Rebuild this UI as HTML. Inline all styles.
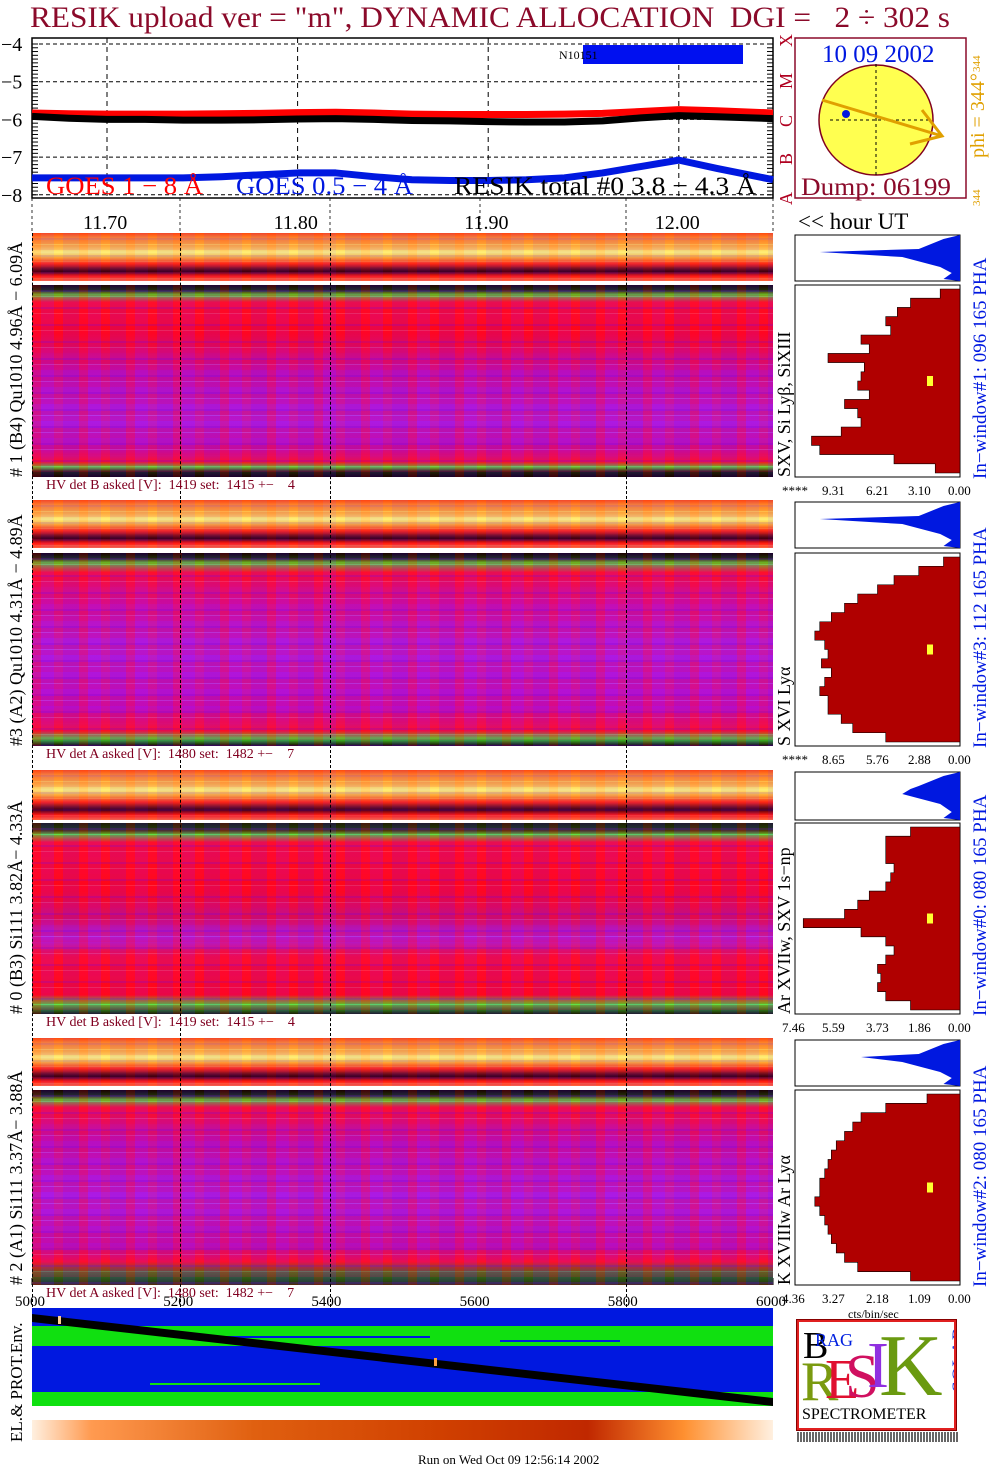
<!DOCTYPE html>
<html><head><meta charset="utf-8"><style>
body{margin:0;background:#fff;width:1004px;height:1476px;overflow:hidden;position:relative;font-family:"Liberation Serif",serif}
.abs{position:absolute}
.strip{position:absolute;left:32px;width:741px;background:linear-gradient(#ff5010 0%,#ff9a30 12%,#ffd040 28%,#ffff80 40%,#ffd040 50%,#ff3010 64%,#701020 74%,#300010 80%,#ff2010 90%,#ff8040 100%)}
.main{position:absolute;left:32px;width:741px}
.tex{position:absolute;inset:0;background:repeating-linear-gradient(90deg,rgba(255,0,40,.25) 0 9px,rgba(150,0,255,.18) 9px 22px,rgba(255,0,0,.1) 22px 31px,rgba(140,0,220,.2) 31px 47px),repeating-linear-gradient(rgba(255,255,255,0) 0 5px,rgba(120,0,200,.25) 5px 7px,rgba(255,0,0,.2) 7px 11px,rgba(255,255,255,.15) 11px 12px,rgba(255,0,60,.2) 12px 17px)}
.vl{position:absolute;border-left:1px dashed #000;width:0}
.hv{position:absolute;left:46px;font-size:14px;color:#800020;white-space:pre}
</style></head><body>
<div id="title" class="abs" style="left:30px;top:1px;font-size:30px;color:#8b0a2a;white-space:pre;transform-origin:left top">RESIK upload ver = "m", DYNAMIC ALLOCATION  DGI =   2 ÷ 302 s</div>

<svg id="top" class="abs" style="left:0;top:0" width="1004" height="1476"></svg>

<div id="panels"></div>

<div class="abs" style="left:418px;top:1452px;font-size:13px">Run on Wed Oct 09 12:56:14 2002</div>

<div class="abs" style="left:797px;top:1320px;width:155px;height:106px;border:2px solid #e02020;outline:1px solid #800;background:#fff;overflow:hidden">
 <div class="abs" style="left:4px;top:2px;font-size:38px;color:#000">B</div>
 <div class="abs" style="left:16px;top:8px;font-size:18px;color:#0020e0">RAG</div>
 <div class="abs" style="left:2px;top:28px;font-size:56px;color:#7a9a10">R</div>
 <div class="abs" style="left:26px;top:26px;font-size:56px;color:#e01030">E</div>
 <div class="abs" style="left:46px;top:20px;font-size:62px;color:#d01060">S</div>
 <div class="abs" style="left:68px;top:6px;font-size:66px;color:#9030e0">I</div>
 <div class="abs" style="left:80px;top:-6px;font-size:88px;color:#6a9a10">K</div>
 <div class="abs" style="left:128px;top:26px;font-size:20px;color:#2040e0;transform:rotate(-90deg)">SOLAR</div>
 <div class="abs" style="left:3px;top:84px;font-size:16px;color:#000">SPECTROMETER</div>
</div>
<div class="abs" style="left:797px;top:1432px;width:162px;height:10px;background:repeating-linear-gradient(90deg,#000 0 2px,#fff 2px 3px);opacity:.6"></div>

<script>
const ti=document.getElementById('title');ti.style.transform='scaleX('+(920/ti.getBoundingClientRect().width)+')';
const NS="http://www.w3.org/2000/svg";
const svg=document.getElementById('top');
function el(t,a,p){const e=document.createElementNS(NS,t);for(const k in a)e.setAttribute(k,a[k]);(p||svg).appendChild(e);return e;}
function txt(s,x,y,a){const e=el('text',Object.assign({x:x,y:y,'font-family':'Liberation Serif, serif'},a));e.textContent=s;return e;}

const times=[11.66,11.68,11.70,11.72,11.74,11.76,11.78,11.80,11.82,11.84,11.86,11.88,11.90,11.92,11.94,11.96,11.98,12.00,12.02,12.05];
const goesLong=[-5.83,-5.85,-5.86,-5.86,-5.86,-5.85,-5.84,-5.82,-5.81,-5.83,-5.86,-5.87,-5.87,-5.87,-5.86,-5.84,-5.79,-5.74,-5.77,-5.83];
const goesShort=[-7.55,-7.55,-7.55,-7.55,-7.55,-7.52,-7.47,-7.42,-7.42,-7.52,-7.6,-7.62,-7.62,-7.6,-7.55,-7.42,-7.25,-7.08,-7.3,-7.6];
const resik=[-5.92,-5.97,-6.0,-6.0,-6.02,-6.02,-6.01,-5.99,-5.98,-6.0,-6.03,-6.04,-6.06,-6.07,-6.07,-6.04,-5.96,-5.9,-5.93,-5.98];
const timeTicks=[11.70,11.80,11.90,12.00];
const yTicks=[-4,-5,-6,-7,-8];
const X=t=>107+(t-11.70)*1906;
const Y=v=>44+(-4-v)*37.7;

el('rect',{x:32,y:38,width:741,height:160,fill:'none',stroke:'#000','stroke-width':1.5});
yTicks.forEach(v=>{const y=Y(v);
 const l=el('line',{x1:32,x2:773,y1:y,y2:y,stroke:'#000','stroke-dasharray':'4,3','stroke-width':1});
 
 const t=txt('−'+(-v),1,y+7,{'font-size':20});});
for(let v=-4;v>=-8;v-=0.1){const y=Y(v);el('line',{x1:32,x2:38,y1:y,y2:y,stroke:'#000'});el('line',{x1:767,x2:773,y1:y,y2:y,stroke:'#000'});}
timeTicks.forEach(t=>{const x=X(t);
 el('line',{x1:x,x2:x,y1:38,y2:198,stroke:'#000','stroke-dasharray':'5,4'});
 const l=txt(t.toFixed(2),x-24,229,{'font-size':20});});
[32,180,330,480,626,773].forEach(x=>{el('line',{x1:x,x2:x,y1:198,y2:233,stroke:'#000','stroke-dasharray':'3,3','stroke-width':0.8});});
function line(arr,c,w,name){const p=el('polyline',{points:times.map((t,i)=>Math.min(773,Math.max(32,X(t)))+','+Y(arr[i])).join(' '),fill:'none',stroke:c,'stroke-width':w,'stroke-linejoin':'round'});
 }
line(goesLong,'#ff0000',7,'goes-long-line');
line(resik,'#000',7,'resik-total-line');
line(goesShort,'#0018e0',7,'goes-short-line');
el('rect',{x:583,y:45,width:160,height:19,fill:'#0010f0'});
txt('N10151',559,59,{'font-size':12});
[['GOES 1 − 8 Å',46,'#ff0000','legend-goes-long',157],['GOES 0.5 − 4 Å',236,'#0018e0','legend-goes-short',177],['RESIK total #0  3.8 − 4.3 Å',454,'#000','legend-resik',302]].forEach(a=>{
 const t=txt(a[0],a[1],194,{'font-size':25,fill:a[2],textLength:a[4],lengthAdjust:'spacingAndGlyphs','xml:space':'preserve'});});
[['A',205],['B',165],['C',127],['M',89],['X',47]].forEach(a=>{const t=txt(a[0],0,0,{'font-size':18,fill:'#b00020',transform:`translate(792,${a[1]}) rotate(-90)`});
 });
el('rect',{x:795,y:38,width:171,height:160,fill:'none',stroke:'#8b0a2a','stroke-width':1.5});
el('ellipse',{cx:876,cy:120,rx:57,ry:55,fill:'#ffff50',stroke:'#800020','stroke-width':1.5});
el('line',{x1:876,x2:876,y1:64,y2:175,stroke:'#000','stroke-dasharray':'3,3'});
el('line',{x1:830,x2:930,y1:120,y2:120,stroke:'#000','stroke-dasharray':'3,3'});
el('line',{x1:822,x2:942,y1:100,y2:136,stroke:'#e0a000','stroke-width':3});
el('polyline',{points:'922,110 942,136 910,144',fill:'none',stroke:'#e0a000','stroke-width':3});
el('circle',{cx:846,cy:114,r:4,fill:'#0018e0'});
const dt=txt('10 09 2002',822,62,{'font-size':25,fill:'#0018e0'});
const dp=txt('Dump: 06199',801,195,{'font-size':25,fill:'#8b0a2a',textLength:150,lengthAdjust:'spacingAndGlyphs'});
txt('phi = 344°',0,0,{'font-size':20,fill:'#e0a000',transform:'translate(984,158) rotate(-90)'});
txt('344',0,0,{'font-size':11,fill:'#e0a000',transform:'translate(980,72) rotate(-90)'});
txt('344',0,0,{'font-size':11,fill:'#e0a000',transform:'translate(980,206) rotate(-90)'});
const hu=txt('<< hour UT',798,229,{'font-size':23});

const panelTops=[233,500,770,1038];
const stripH=[48,48,50,48];
const mainTop=[285,553,823,1090];
const mainBot=[477,746,1014,1285];
const hvTexts=['HV det B asked [V]:  1419 set:  1415 +−    4','HV det A asked [V]:  1480 set:  1482 +−    7','HV det B asked [V]:  1419 set:  1415 +−    4','HV det A asked [V]:  1480 set:  1482 +−    7'];
const leftLabels=['# 1 (B4) Qu1010 4.96Å − 6.09Å','#3 (A2) Qu1010  4.31Å − 4.89Å','# 0 (B3) Si111  3.82Å− 4.33Å','# 2 (A1) Si111  3.37Å− 3.88Å'];
const lineLabels=['SXV, Si Lyβ, SiXIII','S XVI Lyα','Ar XVIIw, SXV 1s−np','K XVIIIw  Ar Lyα'];
const winLabels=['In−window#1:  096 165 PHA','In−window#3:  112 165 PHA','In−window#0:  080 165 PHA','In−window#2:  080 165 PHA'];
const axisLabels=[['****','9.31','6.21','3.10','0.00'],['****','8.65','5.76','2.88','0.00'],['7.46','5.59','3.73','1.86','0.00'],['4.36','3.27','2.18','1.09','0.00']];
const histProfiles=[
 [0.12,0.3,0.38,0.45,0.42,0.6,0.55,0.8,0.58,0.6,0.62,0.55,0.7,0.62,0.6,0.72,0.9,0.85,0.4,0.15],
 [0.1,0.25,0.4,0.5,0.62,0.7,0.78,0.85,0.88,0.82,0.8,0.84,0.78,0.82,0.85,0.8,0.8,0.72,0.65,0.45],
 [0.3,0.45,0.45,0.45,0.4,0.42,0.45,0.55,0.62,0.7,0.95,0.6,0.45,0.4,0.45,0.5,0.48,0.5,0.45,0.3],
 [0.2,0.45,0.6,0.65,0.7,0.75,0.78,0.8,0.82,0.85,0.85,0.88,0.85,0.82,0.8,0.78,0.75,0.7,0.62,0.3]];
const bluePeak=[0.85,0.85,0.3,0.6];
const mainBg=[
 'linear-gradient(#050505 0,#0a3a0a 3%,#30ff30 5%,#ff1030 9%,#ff0820 25%,#c010b0 45%,#b020e0 70%,#c010b0 85%,#ff1030 92%,#30ff30 95%,#0a2a0a 97%,#000 100%)',
 'linear-gradient(#000 0,#0a3a0a 3%,#30ff30 5%,#ff1030 10%,#d010a0 25%,#b020e0 50%,#c010c0 80%,#ff1030 92%,#30ff30 96%,#000 100%)',
 'linear-gradient(#052005 0,#0a4a0a 4%,#30ff30 6%,#ff1030 10%,#ff0820 35%,#d01070 50%,#b020e0 60%,#ff1030 70%,#ff0820 90%,#30ff30 95%,#052005 100%)',
 'linear-gradient(#000 0,#0a3a0a 3%,#30ff30 5%,#ff1030 9%,#c010b0 25%,#b020e0 55%,#c010b0 80%,#ff1030 88%,#208020 94%,#0a3a0a 100%)'];
const P=document.getElementById('panels');
panelTops.forEach((t,i)=>{
 const s=document.createElement('div');s.className='strip';s.style.top=t+'px';s.style.height=stripH[i]+'px';
 
 const tx=document.createElement('div');tx.className='tex';tx.style.opacity='.6';s.appendChild(tx);P.appendChild(s);
 const m=document.createElement('div');m.className='main';m.style.top=mainTop[i]+'px';m.style.height=(mainBot[i]-mainTop[i])+'px';m.style.background=mainBg[i];
 
 const tx2=document.createElement('div');tx2.className='tex';m.appendChild(tx2);P.appendChild(m);
 [32,180,330,626].forEach(x=>{const v=document.createElement('div');v.className='vl';v.style.left=x+'px';v.style.top=t+'px';v.style.height=(mainBot[i]-t+22)+'px';P.appendChild(v);});
 const hv=document.createElement('div');hv.className='hv';hv.style.top=(mainBot[i]+1)+'px';hv.textContent=hvTexts[i];
 P.appendChild(hv);
 const ll=txt(leftLabels[i],0,0,{'font-size':18,transform:`translate(22,${mainBot[i]}) rotate(-90)`,'xml:space':'preserve'});
 
 const bl=txt(lineLabels[i],0,0,{'font-size':18,transform:`translate(790,${mainBot[i]}) rotate(-90)`});
 
 const wl=txt(winLabels[i],0,0,{'font-size':19,fill:'#0018e0',transform:`translate(986,${mainBot[i]+2}) rotate(-90)`,'xml:space':'preserve'});
 
 const hx0=795,hx1=960,ht=t+2,hb=t+stripH[i],mt=mainTop[i],mb=mainBot[i];
 el('rect',{x:hx0,y:ht,width:hx1-hx0,height:hb-ht,fill:'#fff',stroke:'#000'});
 const bp=bluePeak[i],bw=hx1-hx0;
 const bpts=[[hx1,ht],[hx1-bw*0.1,ht+4],[hx1-bw*0.25,ht+14],[hx1-bw*bp,ht+17],[hx1-bw*0.35,ht+22],[hx1-bw*0.12,ht+32],[hx1-bw*0.05,hb-8],[hx1-bw*0.1,hb-2],[hx1,hb]];
 const bpoly=el('polygon',{points:bpts.map(p=>p.join(',')).join(' '),fill:'#0018e0'});
 
 el('rect',{x:hx0,y:mt,width:bw,height:mb-mt,fill:'#fff',stroke:'#000'});
 const prof=histProfiles[i],n=prof.length,rh=(mb-mt-8)/n;
 let pts=[[hx1,mt+4]];
 prof.forEach((f,k)=>{pts.push([hx1-bw*f,mt+4+k*rh]);pts.push([hx1-bw*f,mt+4+(k+1)*rh]);});
 pts.push([hx1,mb-4]);
 const rp=el('polygon',{points:pts.map(p=>p.join(',')).join(' '),fill:'#b00000',stroke:'#000','stroke-width':0.6});
 
 el('rect',{x:927,y:(mt+mb)/2-5,width:6,height:10,fill:'#ffff30'});
 axisLabels[i].forEach((s,k)=>{const a=txt(s,[782,822,866,908,948][k],mb+18,{'font-size':13});});
});
txt('cts/bin/sec',848,1318,{'font-size':12});
const sampleTicks=[5000,5200,5400,5600,5800,6000];
const SX=v=>32+(v-5000)*0.741;
sampleTicks.forEach(v=>{const t=txt(String(v),SX(v)-17,1306,{'font-size':15});
 el('line',{x1:SX(v),x2:SX(v),y1:1278,y2:1285,stroke:'#000'});});
el('rect',{x:32,y:1308,width:741,height:98,fill:'#0018e0'});
el('rect',{x:32,y:1326,width:741,height:20,fill:'#10e010'});
el('rect',{x:32,y:1318,width:741,height:8,fill:'#0018e0'});
el('rect',{x:32,y:1392,width:741,height:14,fill:'#10e010'});
[[150,1322,180],[330,1322,200],[200,1336,230],[500,1340,120],[150,1383,170],[330,1393,110]].forEach(a=>el('rect',{x:a[0],y:a[1],width:a[2],height:2,fill:a[1]<1360?'#0018e0':'#10e010'}));
const band=el('polygon',{points:'32,1314 773,1398 773,1406 32,1322',fill:'#000'});

el('rect',{x:58,y:1316,width:3,height:8,fill:'#ffd090'});el('rect',{x:434,y:1358,width:3,height:8,fill:'#ffa040'});
const envL=txt('EL.& PROT.Env.',0,0,{'font-size':17,transform:'translate(22,1442) rotate(-90)'});
const g=el('linearGradient',{id:'og'},el('defs',{}));
[['0','#fff0e0'],['0.08','#ff9a50'],['0.3','#e06010'],['0.55','#d04000'],['0.75','#c02800'],['0.88','#ff9030'],['1','#fff0e0']].forEach(s=>el('stop',{offset:s[0],'stop-color':s[1]},g));
const st=el('rect',{x:32,y:1420,width:741,height:20,fill:'url(#og)'});
</script>
</body></html>
